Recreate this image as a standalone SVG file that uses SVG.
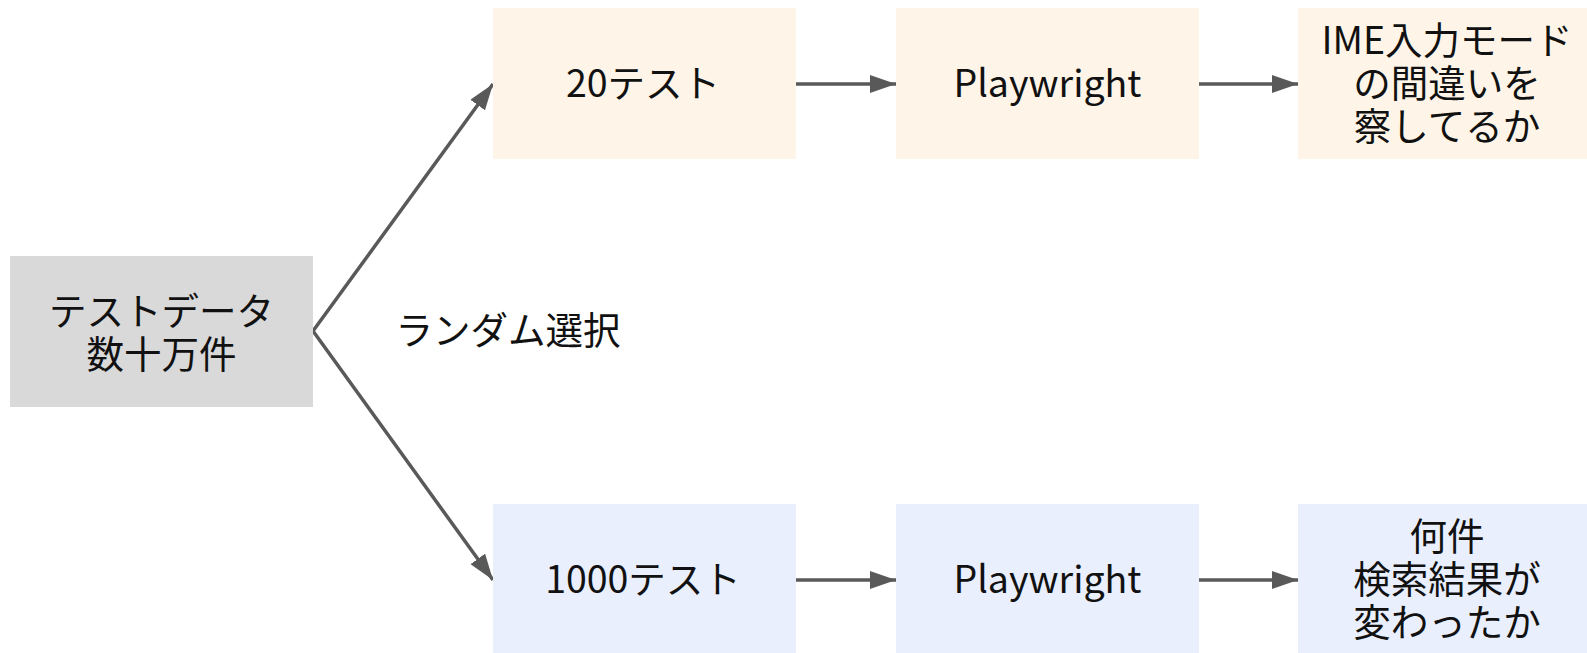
<svg xmlns="http://www.w3.org/2000/svg" width="1587" height="653" viewBox="0 0 1587 653">
<style>
text{font-family:"Noto Sans CJK JP","Noto Sans",sans-serif;font-size:37.5px;fill:#111;text-anchor:middle}
.top{fill:#fef5e8}
.bot{fill:#e9effd}
.src{fill:#d9d9d9}
.edge{stroke:#595959;stroke-width:3.5;fill:none}
</style>
<defs>
<marker id="arr" markerUnits="userSpaceOnUse" viewBox="0 0 26 18" refX="26" refY="9" markerWidth="26" markerHeight="18" orient="auto">
<path d="M0,0 L26,9 L0,18 z" fill="#595959"/>
</marker>
</defs>
<rect width="1587" height="653" fill="#fff"/>
<g id="edges">
<path class="edge" d="M313,331 L493,84" marker-end="url(#arr)"/>
<path class="edge" d="M313,331 L493,580" marker-end="url(#arr)"/>
<path class="edge" d="M796,84 L896,84" marker-end="url(#arr)"/>
<path class="edge" d="M1199,84 L1298,84" marker-end="url(#arr)"/>
<path class="edge" d="M796,580 L896,580" marker-end="url(#arr)"/>
<path class="edge" d="M1199,580 L1298,580" marker-end="url(#arr)"/>
<text x="508" y="344">ランダム選択</text>
</g>
<g id="src">
<rect class="src" x="10" y="256" width="303" height="151"/>
<text x="161.5" y="325">テストデータ</text>
<text x="161.5" y="368">数十万件</text>
</g>
<g id="t20">
<rect class="top" x="493" y="8" width="303" height="151"/>
<text x="643" y="97">20テスト</text>
</g>
<g id="pw1">
<rect class="top" x="896" y="8" width="303" height="151"/>
<text x="1047.5" y="97">Playwright</text>
</g>
<g id="ime">
<rect class="top" x="1298" y="8" width="303" height="151"/>
<text x="1447" y="54">IME入力モード</text>
<text x="1447" y="97">の間違いを</text>
<text x="1447" y="140">察してるか</text>
</g>
<g id="t1000">
<rect class="bot" x="493" y="504" width="303" height="151"/>
<text x="643" y="593">1000テスト</text>
</g>
<g id="pw2">
<rect class="bot" x="896" y="504" width="303" height="151"/>
<text x="1047.5" y="593">Playwright</text>
</g>
<g id="count">
<rect class="bot" x="1298" y="504" width="303" height="151"/>
<text x="1447" y="550">何件</text>
<text x="1447" y="593">検索結果が</text>
<text x="1447" y="636">変わったか</text>
</g>
</svg>
